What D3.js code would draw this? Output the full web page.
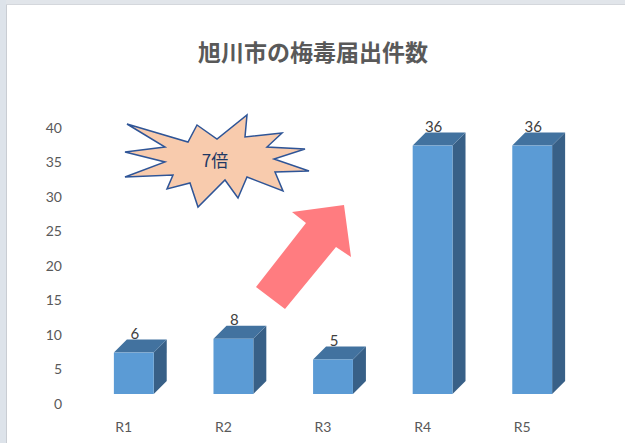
<!DOCTYPE html>
<html lang="ja">
  <head>
    <meta charset="utf-8" />
    <style>
      html, body { margin: 0; padding: 0; background: #fff; }
      svg { display: block; }
    </style>
    <script src="https://d3js.org/d3.v7.min.js"></script>
  </head>
  <body>
    <svg width="625" height="443"></svg>
    <script>
      // data
      var categories = ['R1', 'R2', 'R3', 'R4', 'R5'];
      var counts = [6, 8, 5, 36, 36];
      var yTicks = [0, 5, 10, 15, 20, 25, 30, 35, 40];
      var titleText = '旭川市の梅毒届出件数';
      var burstText = '7倍';

      var svg = d3.select('svg'),
        width = +svg.attr('width'),
        height = +svg.attr('height'),
        depthX = 13, depthY = 13;

      // window frame
      svg.append('rect').attr('x', 0).attr('y', 0).attr('width', width).attr('height', 4).attr('fill', '#e1e5ea');
      svg.append('rect').attr('x', 0).attr('y', 0).attr('width', 6).attr('height', height).attr('fill', '#dde3ea');
      svg.append('rect').attr('x', 6).attr('y', 4).attr('width', 1).attr('height', height).attr('fill', '#c9cdd3');
      svg.append('rect').attr('x', 6).attr('y', 4).attr('width', width).attr('height', 1).attr('fill', '#d4d7dc');

      var x = d3.scaleBand()
        .domain(categories)
        .range([84, 582])
        .paddingInner(0.6)
        .paddingOuter(0.3);

      var y = d3.scaleLinear()
        .domain([0, 40])
        .range([394, 118]);

      // title
      svg.append('text')
        .attr('x', 313).attr('y', 61)
        .attr('text-anchor', 'middle')
        .attr('font-family', '"Noto Sans CJK JP", sans-serif')
        .attr('font-weight', 'bold')
        .attr('font-size', 23)
        .attr('fill', '#595959')
        .text(titleText);

      // y axis (labels only)
      var yAxis = svg.append('g')
        .attr('transform', 'translate(62,10)')
        .call(d3.axisLeft(y).tickValues(yTicks).tickSize(0).tickPadding(0));
      yAxis.select('.domain').remove();
      yAxis.selectAll('text')
        .attr('font-family', 'Lato, "Open Sans", sans-serif')
        .attr('font-size', 14)
        .attr('fill', '#595959');

      // x axis labels
      var xAxis = svg.append('g')
        .attr('transform', 'translate(-10,422)')
        .call(d3.axisBottom(x).tickSize(0).tickPadding(0));
      xAxis.select('.domain').remove();
      xAxis.selectAll('text')
        .attr('font-family', 'Lato, "Open Sans", sans-serif')
        .attr('font-size', 14)
        .attr('fill', '#595959');

      // 3d bars
      var bars = svg.append('g').selectAll('g')
        .data(categories.map(function(c, i) { return { cat: c, val: counts[i] }; }))
        .enter().append('g');

      // side face
      bars.append('path')
        .attr('fill', '#386087')
        .attr('d', function(d) {
          var x1 = x(d.cat) + x.bandwidth(), t = y(d.val), b = y(0);
          return 'M' + x1 + ',' + t + 'L' + (x1 + depthX) + ',' + (t - depthY) +
            'L' + (x1 + depthX) + ',' + (b - depthY) + 'L' + x1 + ',' + b + 'Z';
        });

      // top face
      bars.append('path')
        .attr('fill', '#42729f')
        .attr('d', function(d) {
          var x0 = x(d.cat), x1 = x0 + x.bandwidth(), t = y(d.val);
          return 'M' + x0 + ',' + t + 'L' + (x0 + depthX) + ',' + (t - depthY) +
            'L' + (x1 + depthX) + ',' + (t - depthY) + 'L' + x1 + ',' + t + 'Z';
        });

      // front face
      bars.append('rect')
        .attr('fill', '#5b9bd5')
        .attr('x', function(d) { return x(d.cat); })
        .attr('y', function(d) { return y(d.val); })
        .attr('width', x.bandwidth())
        .attr('height', function(d) { return y(0) - y(d.val); });

      // value labels
      bars.append('text')
        .attr('x', function(d) { return x(d.cat) + x.bandwidth() / 2 + 1; })
        .attr('y', function(d) { return y(d.val) - depthY - 1; })
        .attr('text-anchor', 'middle')
        .attr('font-family', 'Lato, "Open Sans", sans-serif')
        .attr('font-size', 15)
        .attr('fill', '#404040')
        .text(function(d) { return d.val; });

      // starburst callout
      var burst = [
        [127, 124], [188, 142], [197, 125], [217, 139], [247, 115], [245, 137],
        [282, 133], [267, 147], [305, 149], [274, 159], [309, 171], [275, 172],
        [283, 191], [247, 177], [238, 198], [225, 180], [198, 207], [190, 183],
        [167, 189], [173, 175], [125, 177], [165, 162], [125, 152], [165, 147]
      ];
      svg.append('path')
        .attr('d', d3.line()(burst) + 'Z')
        .attr('fill', '#f8cbad')
        .attr('stroke', '#2f5597')
        .attr('stroke-width', 1.5)
        .attr('stroke-linejoin', 'miter');
      svg.append('text')
        .attr('x', 215).attr('y', 167)
        .attr('text-anchor', 'middle')
        .attr('font-family', '"Noto Sans CJK JP", sans-serif')
        .attr('font-size', 17)
        .attr('fill', '#1f3864')
        .text(burstText);

      // arrow
      var arrow = [
        [256, 287], [306, 223], [292, 212], [344, 205], [351, 257], [336, 247], [285, 309]
      ];
      svg.append('path')
        .attr('d', d3.line()(arrow) + 'Z')
        .attr('fill', '#ff7c80');
    </script>
  </body>
</html>
